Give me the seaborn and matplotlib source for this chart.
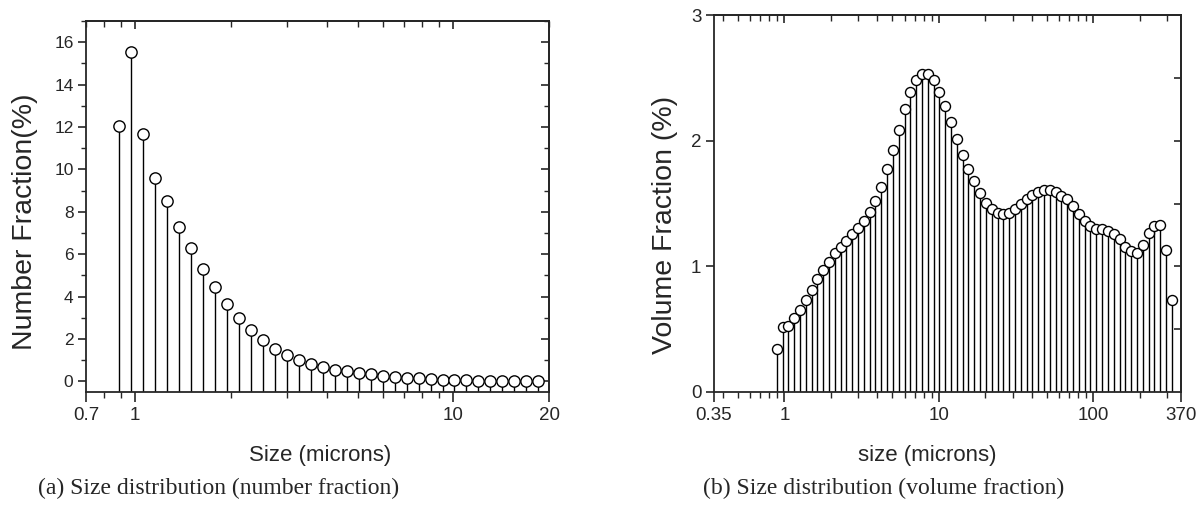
import numpy as np
import pandas as pd
import matplotlib
matplotlib.use("Agg")
import matplotlib.pyplot as plt
import matplotlib.ticker as mticker
import seaborn as sns

# ---------------- data ----------------
size_num = [0.892, 0.972, 1.060, 1.156, 1.261, 1.375, 1.499, 1.635, 1.783, 1.944,
            2.120, 2.312, 2.522, 2.750, 2.999, 3.270, 3.566, 3.889, 4.241, 4.625,
            5.043, 5.500, 5.997, 6.540, 7.132, 7.778, 8.482, 9.250, 10.087, 11.000,
            11.995, 13.081, 14.265, 15.556, 16.964, 18.499]
number_fraction = [12.03, 15.56, 11.66, 9.59, 8.49, 7.28, 6.28, 5.32, 4.46, 3.67,
                   3.01, 2.42, 1.95, 1.55, 1.24, 1.01, 0.82, 0.66, 0.55, 0.47,
                   0.39, 0.33, 0.26, 0.21, 0.17, 0.14, 0.11, 0.08, 0.06, 0.05,
                   0.04, 0.03, 0.02, 0.02, 0.01, 0.01]

size_vol = [0.892, 0.972, 1.060, 1.156, 1.261, 1.375, 1.499, 1.635, 1.783, 1.944,
            2.120, 2.312, 2.522, 2.750, 2.999, 3.270, 3.566, 3.889, 4.241, 4.625,
            5.043, 5.500, 5.997, 6.540, 7.132, 7.778, 8.482, 9.250, 10.087, 11.000,
            11.995, 13.081, 14.265, 15.556, 16.964, 18.499, 20.175, 22.001, 23.992, 26.164,
            28.532, 31.114, 33.930, 37.001, 40.350, 44.002, 47.985, 52.328, 57.064, 62.229,
            67.861, 74.003, 80.701, 88.005, 95.970, 104.66, 114.13, 124.46, 135.73, 148.01,
            161.41, 176.02, 191.95, 209.32, 228.27, 248.93, 271.46, 296.03, 322.82]
volume_fraction = [0.345, 0.517, 0.525, 0.589, 0.655, 0.735, 0.815, 0.897, 0.974, 1.037,
                   1.103, 1.157, 1.204, 1.257, 1.305, 1.363, 1.435, 1.522, 1.634, 1.774,
                   1.925, 2.082, 2.255, 2.385, 2.485, 2.527, 2.533, 2.485, 2.384, 2.275,
                   2.146, 2.013, 1.886, 1.777, 1.676, 1.586, 1.507, 1.453, 1.424, 1.414,
                   1.427, 1.456, 1.496, 1.535, 1.565, 1.594, 1.608, 1.605, 1.589, 1.562,
                   1.533, 1.480, 1.414, 1.360, 1.321, 1.300, 1.300, 1.281, 1.260, 1.220,
                   1.154, 1.122, 1.109, 1.167, 1.262, 1.318, 1.326, 1.133, 0.735]

left_xticks = [0.7, 1, 10, 20]
left_xticklabels = ["0.7", "1", "10", "20"]
right_xticks = [0.35, 1, 10, 100, 370]
right_xticklabels = ["0.35", "1", "10", "100", "370"]

df_num = pd.DataFrame({"size": size_num, "frac": number_fraction})
df_vol = pd.DataFrame({"size": size_vol, "frac": volume_fraction})

# ---------------- style ----------------
sns.set_style("ticks")
plt.rcParams["font.family"] = ["Liberation Sans", "DejaVu Sans"]
plt.rcParams["axes.linewidth"] = 1.3

W, H = 1203, 508
fig = plt.figure(figsize=(W / 100, H / 100), dpi=100)

def ax_rect(x0, y0, x1, y1):
    return [x0 / W, 1 - y1 / H, (x1 - x0) / W, (y1 - y0) / H]

axL = fig.add_axes(ax_rect(86, 21, 549, 392))
axR = fig.add_axes(ax_rect(714, 15, 1181, 392))

def stem(ax, df, ybase, ms):
    ax.vlines(df["size"], ybase, df["frac"], colors="black", linewidth=1.0, zorder=2)
    sns.scatterplot(data=df, x="size", y="frac", ax=ax, marker="o", s=ms,
                    facecolor="white", edgecolor="black", linewidth=1.0, zorder=3,
                    legend=False)

# ---- left ----
axL.set_xscale("log")
axL.set_xlim(0.7, 20)
axL.set_ylim(-0.5, 17)
stem(axL, df_num, -0.5, 66)
axL.set_xticks(left_xticks)
axL.set_xticklabels(left_xticklabels)
axL.xaxis.set_minor_locator(mticker.LogLocator(base=10, subs=np.arange(2, 10)))
axL.xaxis.set_minor_formatter(mticker.NullFormatter())
axL.set_yticks(np.arange(0, 17, 2))
axL.yaxis.set_minor_locator(mticker.MultipleLocator(1))
axL.tick_params(axis="x", which="major", direction="out", length=7, width=1.2,
                labelsize=13.5, pad=4)
axL.tick_params(axis="x", which="minor", direction="out", length=4, width=1.0)
axL.tick_params(axis="y", which="major", direction="out", length=6, width=1.2,
                labelsize=12.5, pad=3)
axL.tick_params(axis="y", which="minor", direction="out", length=3.5, width=1.0)
axL.set_xlabel("")
axL.set_ylabel("")

secLx = axL.secondary_xaxis("top")
secLx.set_xticks([1, 10])
secLx.xaxis.set_minor_locator(mticker.LogLocator(base=10, subs=np.arange(2, 10)))
secLx.tick_params(axis="x", which="major", direction="in", length=6, width=1.2, labeltop=False)
secLx.tick_params(axis="x", which="minor", direction="in", length=4, width=1.0, labeltop=False)
secLx.xaxis.set_minor_formatter(mticker.NullFormatter())
secLy = axL.secondary_yaxis("right")
secLy.set_yticks(np.arange(0, 17, 2))
secLy.yaxis.set_minor_locator(mticker.MultipleLocator(1))
secLy.tick_params(axis="y", which="major", direction="in", length=6, width=1.2, labelright=False)
secLy.tick_params(axis="y", which="minor", direction="in", length=3.5, width=1.0)

# ---- right ----
axR.set_xscale("log")
axR.set_xlim(0.35, 370)
axR.set_ylim(0, 3)
stem(axR, df_vol, 0, 52)
axR.set_xticks(right_xticks)
axR.set_xticklabels(right_xticklabels)
axR.xaxis.set_minor_locator(mticker.LogLocator(base=10, subs=np.arange(2, 10)))
axR.xaxis.set_minor_formatter(mticker.NullFormatter())
axR.set_yticks([0, 1, 2, 3])
axR.tick_params(axis="x", which="major", direction="out", length=7, width=1.2,
                labelsize=13.5, pad=4)
axR.tick_params(axis="x", which="minor", direction="out", length=4, width=1.0)
axR.tick_params(axis="y", which="major", direction="out", length=6, width=1.2,
                labelsize=13.5, pad=3)
axR.set_xlabel("")
axR.set_ylabel("")

secRx = axR.secondary_xaxis("top")
secRx.set_xticks([1, 10, 100])
secRx.xaxis.set_minor_locator(mticker.LogLocator(base=10, subs=np.arange(2, 10)))
secRx.tick_params(axis="x", which="major", direction="in", length=6, width=1.2, labeltop=False)
secRx.tick_params(axis="x", which="minor", direction="in", length=4, width=1.0, labeltop=False)
secRx.xaxis.set_minor_formatter(mticker.NullFormatter())
secRy = axR.secondary_yaxis("right")
secRy.set_yticks([0.5, 1.0, 1.5, 2.0, 2.5])
secRy.tick_params(axis="y", which="major", direction="in", length=5, width=1.2, labelright=False)

for ax in (axL, axR):
    for s in ax.spines.values():
        s.set_linewidth(1.3)
for sec in (secLx, secLy, secRx, secRy):
    for s in sec.spines.values():
        s.set_linewidth(1.3)

# ---- labels ----
def ftext(x, y, s, **kw):
    fig.text(x / W, 1 - y / H, s, ha="center", va="center", **kw)

ftext(25, 222, "Number Fraction(%)", rotation=90, fontsize=20.5)
ftext(665, 225, "Volume Fraction (%)", rotation=90, fontsize=20.5)
ftext(320, 455, "Size (microns)", fontsize=16)
ftext(927, 455, "size (microns)", fontsize=16)
serif = ["Liberation Serif", "DejaVu Serif"]
ftext(219, 488, "(a) Size distribution (number fraction)", fontsize=17, family=serif)
ftext(884, 488, "(b) Size distribution (volume fraction)", fontsize=17, family=serif)

fig.savefig("out.png", dpi=100)
